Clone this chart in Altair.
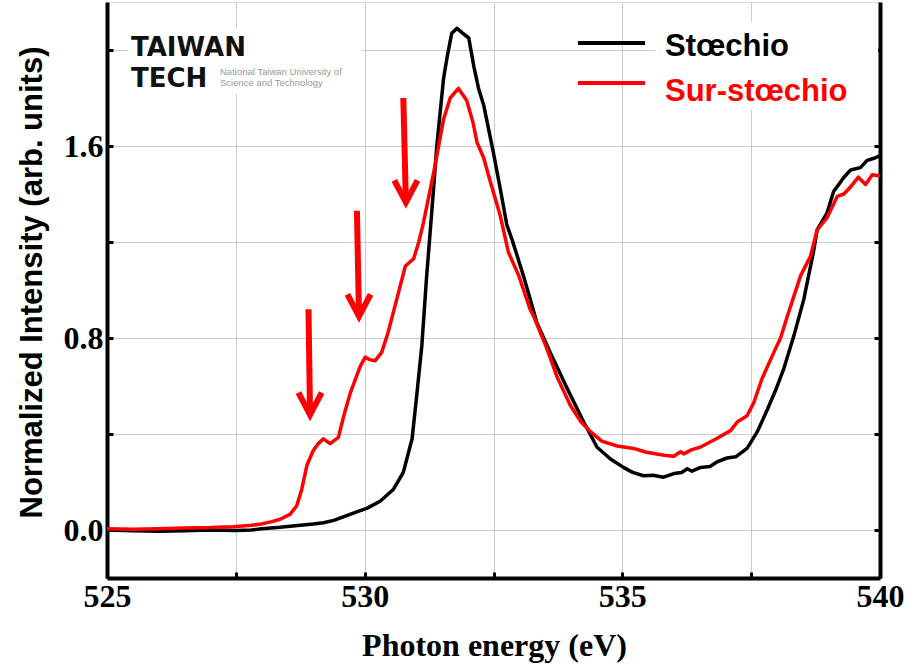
import altair as alt
import pandas as pd

# ---- data ----
energy_stoechio = [525.0, 525.5, 526.0, 526.5, 527.0, 527.5, 527.8, 528.0, 528.36, 528.75, 529.0, 529.2,
                   529.4, 529.65, 529.9, 530.04, 530.3, 530.56, 530.75, 530.92, 531.01, 531.11, 531.2, 531.3,
                   531.4, 531.53, 531.6, 531.69, 531.79, 531.9, 532.02, 532.12, 532.21, 532.31, 532.5, 532.65,
                   532.76, 532.86, 533.08, 533.28, 533.34, 533.6, 533.93, 534.25, 534.51, 534.77, 535.03, 535.2,
                   535.41, 535.6, 535.8, 536.0, 536.15, 536.26, 536.35, 536.51, 536.7, 536.85, 537.03, 537.2,
                   537.42, 537.62, 537.81, 537.97, 538.13, 538.33, 538.52, 538.71, 538.78, 538.97, 539.1, 539.2,
                   539.3, 539.43, 539.62, 539.75, 539.9, 540.0]
intensity_stoechio = [0.0, -0.003, -0.005, -0.003, 0.0, -0.002, 0.0, 0.005, 0.011, 0.02, 0.025, 0.03,
                      0.04, 0.06, 0.08, 0.09, 0.12, 0.17, 0.24, 0.38, 0.56, 0.77, 1.05, 1.32,
                      1.6, 1.88, 1.97, 2.07, 2.09, 2.07, 2.05, 1.93, 1.84, 1.77, 1.57, 1.40,
                      1.27, 1.21, 1.06, 0.91, 0.865, 0.74, 0.59, 0.45, 0.345, 0.296, 0.26, 0.24,
                      0.226, 0.228, 0.22, 0.235, 0.24, 0.255, 0.245, 0.26, 0.265, 0.285, 0.30, 0.305,
                      0.34, 0.41, 0.50, 0.58, 0.67, 0.81, 0.96, 1.16, 1.25, 1.32, 1.41, 1.44,
                      1.47, 1.50, 1.51, 1.54, 1.55, 1.56]

energy_sur = [525.0, 525.5, 526.0, 526.5, 527.0, 527.45, 527.8, 528.0, 528.2, 528.36, 528.55, 528.68,
              528.78, 528.88, 529.0, 529.1, 529.2, 529.33, 529.49, 529.6, 529.72, 529.91, 530.01, 530.1,
              530.2, 530.33, 530.45, 530.56, 530.79, 530.95, 531.05, 531.14, 531.34, 531.53, 531.66, 531.82,
              531.98, 532.1, 532.18, 532.31, 532.44, 532.63, 532.79, 532.99, 533.21, 533.28, 533.54, 533.73,
              533.99, 534.2, 534.38, 534.6, 534.9, 535.22, 535.45, 535.67, 535.85, 536.0, 536.13, 536.19,
              536.35, 536.51, 536.84, 537.1, 537.23, 537.42, 537.55, 537.71, 537.94, 538.07, 538.2, 538.46,
              538.65, 538.78, 538.97, 539.17, 539.3, 539.43, 539.58, 539.72, 539.85, 540.0]
intensity_sur = [0.005, 0.003, 0.005, 0.008, 0.01, 0.014, 0.02, 0.025, 0.035, 0.045, 0.065, 0.10,
                 0.17, 0.27, 0.33, 0.36, 0.38, 0.36, 0.386, 0.48, 0.57, 0.68, 0.72, 0.71,
                 0.705, 0.74, 0.82, 0.91, 1.10, 1.13, 1.20, 1.28, 1.49, 1.71, 1.80, 1.84,
                 1.79, 1.70, 1.615, 1.55, 1.45, 1.31, 1.157, 1.06, 0.92, 0.89, 0.754, 0.64,
                 0.52, 0.45, 0.41, 0.37, 0.35, 0.34, 0.325, 0.317, 0.31, 0.307, 0.326, 0.317,
                 0.335, 0.345, 0.382, 0.414, 0.45, 0.476, 0.53, 0.63, 0.74, 0.80, 0.89, 1.06,
                 1.14, 1.25, 1.30, 1.39, 1.40, 1.43, 1.47, 1.44, 1.48, 1.475]

series_names = ["Stœchio", "Sur-stœchio"]
series_colors = ["#000000", "#ff0000"]

x_ticks = [525, 527.5, 530, 532.5, 535, 537.5, 540]
y_ticks = [0.0, 0.4, 0.8, 1.2, 1.6, 2.0]

# arrows marking the pre-edge features (energy at top / tip, intensity at top / tip)
arrow_x_top = [528.91, 529.85, 530.75]
arrow_x_tip = [528.94, 529.89, 530.80]
arrow_top = [0.92, 1.33, 1.80]
arrow_tip = [0.48, 0.89, 1.365]
head_half_width = 0.225
head_height = 0.092

logo_lines = ["TAIWAN", "TECH"]
logo_small = ["National Taiwan University of", "Science and Technology"]

# ---- build tables ----
lines_df = pd.concat([
    pd.DataFrame({"energy": energy_stoechio, "intensity": intensity_stoechio, "series": series_names[0]}),
    pd.DataFrame({"energy": energy_sur, "intensity": intensity_sur, "series": series_names[1]}),
])

shaft_df = pd.DataFrame({"energy": arrow_x_top, "intensity": arrow_top, "x2": arrow_x_tip, "y2": arrow_tip})
head_rows = []
for i, (xt, yt) in enumerate(zip(arrow_x_tip, arrow_tip)):
    head_rows.append({"arrow": i, "o": 0, "energy": xt - head_half_width, "intensity": yt + head_height})
    head_rows.append({"arrow": i, "o": 1, "energy": xt, "intensity": yt})
    head_rows.append({"arrow": i, "o": 2, "energy": xt + head_half_width, "intensity": yt + head_height})
head_df = pd.DataFrame(head_rows)

XDOM = [525, 540]
YDOM = [-0.2, 2.2]
serif = "Liberation Serif"
sans = "Liberation Sans"

xscale = alt.Scale(domain=XDOM, nice=False, zero=False)
yscale = alt.Scale(domain=YDOM, nice=False, zero=False)

x_axis = alt.Axis(
    values=x_ticks, grid=True, gridColor="#cccccc", gridWidth=1,
    labelExpr="datum.value % 5 == 0 ? format(datum.value, 'd') : ''",
    labelFont=serif, labelFontSize=32, labelFontWeight="bold", labelColor="black",
    labelBaseline="alphabetic", labelPadding=34, labelFlush=False, labelOverlap=False,
    domainColor="black", domainWidth=4, tickColor="black", tickWidth=3,
    tickSize={"expr": "-6"},
    title="Photon energy (eV)", titleFont=serif, titleFontSize=32, titleFontWeight="bold",
    titleColor="black", titleBaseline="alphabetic", titleX=387, titleY=77,
)
y_axis = alt.Axis(
    values=y_ticks, grid=True, gridColor="#cccccc", gridWidth=1,
    labelExpr="abs(datum.value - 0.8*round(datum.value/0.8)) < 0.001 ? format(datum.value, '.1f') : ''",
    labelFont=serif, labelFontSize=32, labelFontWeight="bold", labelColor="black",
    labelBaseline="middle", labelPadding=10, labelOverlap=False, labelFlush=False,
    domainColor="black", domainWidth=4, tickColor="black", tickWidth=3,
    tickSize={"expr": "-6"},
    title="Normalized Intensity (arb. units)", titleFont=sans, titleFontSize=31,
    titleFontWeight="bold", titleColor="black", titleBaseline="alphabetic",
    titleAlign="center", titleAngle=270, titleX=-66, titleY=280,
)

X = alt.X("energy:Q", scale=xscale, axis=x_axis)
Y = alt.Y("intensity:Q", scale=yscale, axis=y_axis)

color = alt.Color("series:N", scale=alt.Scale(domain=series_names, range=series_colors), legend=None)

white_logo = alt.Chart(pd.DataFrame({"k": [0]})).mark_rect(color="white").encode(
    x=alt.value(21), x2=alt.value(255), y=alt.value(26), y2=alt.value(92)
)
white_legend = alt.Chart(pd.DataFrame({"k": [0]})).mark_rect(color="white").encode(
    x=alt.value(548), x2=alt.value(771), y=alt.value(20), y2=alt.value(108)
)

lines = alt.Chart(lines_df).mark_line(strokeWidth=3.5, strokeJoin="round").encode(
    x=X, y=Y, color=color, order="energy:Q",
)

shafts = alt.Chart(shaft_df).mark_rule(color="#ff0000", strokeWidth=6).encode(
    x=X, y=Y, x2="x2:Q", y2="y2:Q",
)
heads = alt.Chart(head_df).mark_line(color="#ff0000", strokeWidth=6, strokeJoin="miter").encode(
    x=X, y=Y, detail="arrow:N", order="o:Q",
)

def text_layer(t, x, y, **kw):
    return alt.Chart(pd.DataFrame({"t": [t]})).mark_text(
        align="left", baseline="alphabetic", **kw
    ).encode(x=alt.value(x), y=alt.value(y), text="t:N")

logo_big1 = text_layer(logo_lines[0], 24, 54, font="DejaVu Sans", fontWeight="bold", fontSize=26, color="#111111")
logo_big2 = text_layer(logo_lines[1], 24, 85, font="DejaVu Sans", fontWeight="bold", fontSize=26, color="#111111")
logo_s1 = text_layer(logo_small[0], 113, 73, font=sans, fontSize=9.5, color="#999999")
logo_s2 = text_layer(logo_small[1], 113, 84, font=sans, fontSize=9.5, color="#999999")

leg_line1 = alt.Chart(pd.DataFrame({"k": [0]})).mark_rule(color=series_colors[0], strokeWidth=4).encode(
    x=alt.value(471), x2=alt.value(538), y=alt.value(41))
leg_line2 = alt.Chart(pd.DataFrame({"k": [0]})).mark_rule(color=series_colors[1], strokeWidth=4).encode(
    x=alt.value(471), x2=alt.value(538), y=alt.value(81))
leg_t1 = text_layer(series_names[0], 558, 54, font=sans, fontWeight="bold", fontSize=31, color=series_colors[0])
leg_t2 = text_layer(series_names[1], 558, 99, font=sans, fontWeight="bold", fontSize=31, color=series_colors[1])

# invisible horizontal rules that carry the right-hand frame axis
right_axis = alt.Chart(pd.DataFrame({"v": y_ticks})).mark_rule(opacity=0).encode(
    y=alt.Y("v:Q", scale=yscale, axis=alt.Axis(
        orient="right", values=y_ticks, labels=False, grid=False, title=None,
        domainColor="black", domainWidth=4, tickColor="black", tickWidth=3,
        tickSize={"expr": "-6"})),
)

main = alt.layer(white_logo, white_legend, lines, shafts, heads,
                 logo_big1, logo_big2, logo_s1, logo_s2,
                 leg_line1, leg_line2, leg_t1, leg_t2)

chart = alt.layer(main, right_axis).resolve_scale(y="independent").properties(
    width=773, height=576,
    padding={"left": 107, "top": 2, "right": 38, "bottom": 87},
    autosize="none",
).configure_view(strokeWidth=0, stroke="transparent").configure(background="white")

chart.save("out.html", embed_options={"renderer": "svg", "actions": False})
